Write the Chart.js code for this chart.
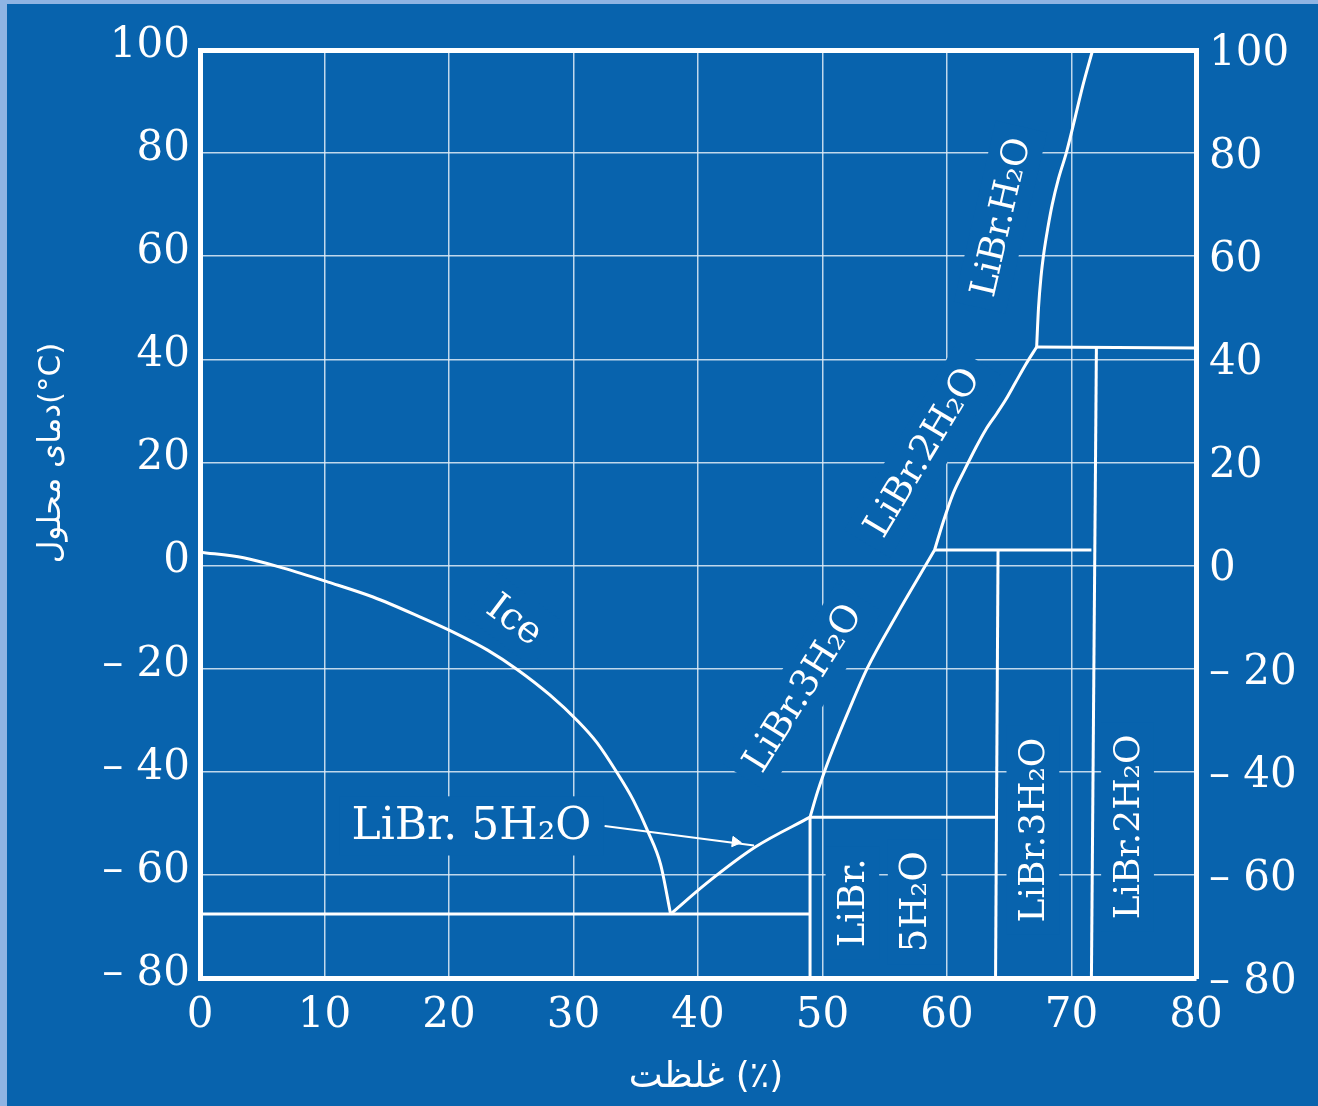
<!DOCTYPE html>
<html>
<head>
<meta charset="utf-8">
<script src="https://cdn.jsdelivr.net/npm/chart.js@4.4.0/dist/chart.umd.min.js"></script>
<style>
  html, body { margin: 0; padding: 0; width: 1318px; height: 1106px; overflow: hidden; background: #8fb4e3; }
  #wrap { position: absolute; left: 7px; top: 4px; width: 1311px; height: 1102px; }
</style>
</head>
<body>
<div id="wrap"><canvas id="phaseChart" width="1311" height="1102"></canvas></div>
<script>
"use strict";

// LiBr - water phase diagram
// x = concentration (%), y = solution temperature (°C)
const xTicks = [0, 10, 20, 30, 40, 50, 60, 70, 80];
const yTicks = [-80, -60, -40, -20, 0, 20, 40, 60, 80, 100];

// ice line
const iceX = [0, 3.5, 6.7, 10.3, 13.9, 17.7, 20.5, 23.1, 25.5, 28.1, 30.4, 31.9, 33.5, 34.8, 36.0, 37.0, 37.8];
const iceY = [2.6, 1.5, -0.5, -3.2, -6.1, -10.0, -13.1, -16.4, -20.2, -25.1, -30.3, -34.4, -40.2, -45.5, -51.7, -58.0, -67.6];

// LiBr.5H2O line
const pentaX = [37.8, 40.7, 44.6, 49.0];
const pentaY = [-67.6, -61.6, -54.6, -48.8];

// LiBr.3H2O line
const triX = [49.0, 49.6, 50.6, 52.2, 53.6, 56.0, 58.2, 59.0];
const triY = [-48.8, -43.9, -37.1, -27.6, -19.9, -9.4, -0.3, 3.0];

// LiBr.2H2O line
const diX = [59.0, 59.7, 60.5, 61.4, 62.3, 63.1, 64.0, 64.7, 65.5, 66.3, 67.2];
const diY = [3.0, 8.5, 14.0, 18.5, 22.8, 26.3, 29.5, 32.1, 35.5, 38.9, 42.4];

// LiBr.H2O line
const monoX = [67.2, 67.35, 67.55, 67.8, 68.1, 68.45, 68.95, 69.6, 70.3, 70.9, 71.7];
const monoY = [42.4, 50.0, 56.0, 61.0, 65.5, 70.0, 75.0, 80.2, 87.0, 93.0, 100];

// horizontal tie lines
const eutecticX = [0, 49.0];
const eutecticY = [-67.6, -67.6];
const tie53X = [49.0, 64.0];
const tie53Y = [-48.8, -48.8];
const tie32X = [59.0, 71.6];
const tie32Y = [3.0, 3.0];
const tie21X = [67.2, 80];
const tie21Y = [42.4, 42.2];

// vertical lines (solid hydrates)
const v5X = [49.0, 49.0];
const v5Y = [-48.8, -80];
const v3X = [64.1, 63.9];
const v3Y = [3.0, -80];
const v2X = [72.0, 71.6];
const v2Y = [42.2, -80];

// arrow pointing at the 5H2O line
const arrowX = [32.5, 44.5];
const arrowY = [-50.5, -54.3];
const arrowHeadX = [43.0];
const arrowHeadY = [-53.6];

// region labels
const labelText = ["Ice", "LiBr. 5H₂O", "LiBr.3H₂O", "LiBr.2H₂O", "LiBr.H₂O", "LiBr.", "5H₂O", "LiBr.3H₂O", "LiBr.2H₂O"];
const labelX = [25.3, 21.8, 48.4, 58.0, 64.3, 52.4, 57.4, 66.9, 74.5];
const labelY = [-10.5, -50.5, -23.7, 22.0, 67.6, -65.4, -65.2, -51.3, -50.7];
const labelAngle = [37, 0, -58, -59, -77, -90, -90, -90, -90];
const labelSize = [38, 44, 37, 37, 36, 37, 37, 36, 36];

const BG = "#0863ad";
const INK = "#ffffff";
const GRID = "rgba(225,236,247,0.85)";
const SERIF = "'DejaVu Serif', 'Liberation Serif', serif";

const pts = (xs, ys) => xs.map((x, i) => ({ x: x, y: ys[i] }));

function curve(xs, ys) {
  return {
    data: pts(xs, ys),
    showLine: true,
    borderColor: INK,
    borderWidth: 3,
    pointRadius: 0,
    cubicInterpolationMode: "monotone",
    fill: false,
  };
}

function straight(xs, ys, w) {
  return {
    data: pts(xs, ys),
    showLine: true,
    borderColor: INK,
    borderWidth: w || 3,
    pointRadius: 0,
    tension: 0,
    fill: false,
  };
}

const datasets = [
  curve(iceX, iceY),
  curve(pentaX, pentaY),
  curve(triX, triY),
  curve(diX, diY),
  curve(monoX, monoY),
  straight(eutecticX, eutecticY),
  straight(tie53X, tie53Y),
  straight(tie32X, tie32Y),
  straight(tie21X, tie21Y),
  straight(v5X, v5Y),
  straight(v3X, v3Y),
  straight(v2X, v2Y),
  straight(arrowX, arrowY, 2),
  {
    data: pts(arrowHeadX, arrowHeadY),
    showLine: false,
    pointStyle: "triangle",
    pointRadius: 6,
    pointRotation: 97,
    backgroundColor: INK,
    borderColor: INK,
    borderWidth: 1,
  },
];

const fmt = (v) => (v < 0 ? "– " + Math.abs(v) : String(v));

// background, label gaps in the grid, labels and axis titles
const decor = {
  id: "decor",
  beforeDraw(chart) {
    const c = chart.ctx;
    c.save();
    c.fillStyle = BG;
    c.fillRect(0, 0, chart.width, chart.height);
    c.restore();
  },
  beforeDatasetsDraw(chart) {
    const c = chart.ctx;
    const sx = chart.scales.x, sy = chart.scales.y;
    c.save();
    c.fillStyle = BG;
    labelText.forEach((t, i) => {
      c.font = labelSize[i] + "px " + SERIF;
      const w = c.measureText(t).width;
      const h = labelSize[i] * 0.8;
      c.save();
      c.translate(sx.getPixelForValue(labelX[i]), sy.getPixelForValue(labelY[i]));
      c.rotate(labelAngle[i] * Math.PI / 180);
      c.fillRect(-w / 2 - 12, -h / 2 - 12, w + 24, h + 24);
      c.restore();
    });
    c.restore();
  },
  afterDatasetsDraw(chart) {
    const c = chart.ctx;
    const sx = chart.scales.x, sy = chart.scales.y;
    c.save();
    c.fillStyle = INK;
    c.textAlign = "center";
    c.textBaseline = "middle";
    labelText.forEach((t, i) => {
      c.font = labelSize[i] + "px " + SERIF;
      c.save();
      c.translate(sx.getPixelForValue(labelX[i]), sy.getPixelForValue(labelY[i]));
      c.rotate(labelAngle[i] * Math.PI / 180);
      c.fillText(t, 0, 2);
      c.restore();
    });

    // axis titles (Persian)
    c.font = "31px 'DejaVu Sans', sans-serif";
    c.save();
    c.translate(45, 449);
    c.rotate(-Math.PI / 2);
    c.fillText("دمای محلول(°C)", 0, 0);
    c.restore();
    c.font = "36px 'DejaVu Sans', sans-serif";
    c.fillText("غلظت (٪)", 699, 1074);
    c.restore();
  },
};

const tickFont = { family: SERIF, size: 42 };

new Chart(document.getElementById("phaseChart"), {
  type: "scatter",
  data: { datasets: datasets },
  plugins: [decor],
  options: {
    responsive: false,
    animation: false,
    events: [],
    layout: { padding: { top: 46, left: 0, right: 0, bottom: 0 } },
    plugins: { legend: { display: false }, tooltip: { enabled: false } },
    scales: {
      x: {
        type: "linear",
        position: "bottom",
        min: xTicks[0],
        max: xTicks[xTicks.length - 1],
        afterFit: (s) => { s.height = 128; },
        afterBuildTicks: (s) => { s.ticks = xTicks.map((v) => ({ value: v })); },
        ticks: { color: INK, font: tickFont, padding: 13, autoSkip: false, maxRotation: 0 },
        grid: {
          color: (ctx) => (ctx.tick && (ctx.tick.value === 0 || ctx.tick.value === 80) ? "rgba(0,0,0,0)" : GRID),
          lineWidth: 1.5,
          drawTicks: false,
        },
        border: { color: INK, width: 5 },
      },
      xTop: {
        type: "linear",
        position: "top",
        min: 0,
        max: 80,
        afterFit: (s) => { s.height = 0; },
        ticks: { display: false },
        grid: { display: false, drawTicks: false },
        border: { color: INK, width: 5 },
      },
      y: {
        type: "linear",
        position: "left",
        min: yTicks[0],
        max: yTicks[yTicks.length - 1],
        afterFit: (s) => { s.width = 193; },
        afterBuildTicks: (s) => { s.ticks = yTicks.map((v) => ({ value: v })); },
        ticks: { color: INK, font: tickFont, padding: 10, labelOffset: -4, autoSkip: false, callback: fmt },
        grid: {
          color: (ctx) => (ctx.tick && (ctx.tick.value === -80 || ctx.tick.value === 100) ? "rgba(0,0,0,0)" : GRID),
          lineWidth: 1.5,
          drawTicks: false,
        },
        border: { color: INK, width: 5 },
      },
      y2: {
        type: "linear",
        position: "right",
        min: yTicks[0],
        max: yTicks[yTicks.length - 1],
        afterFit: (s) => { s.width = 122; },
        afterBuildTicks: (s) => { s.ticks = yTicks.map((v) => ({ value: v })); },
        ticks: { color: INK, font: tickFont, padding: 13, labelOffset: 4, autoSkip: false, callback: fmt },
        grid: { display: false, drawTicks: false },
        border: { color: INK, width: 5 },
      },
    },
  },
});
</script>
</body>
</html>
